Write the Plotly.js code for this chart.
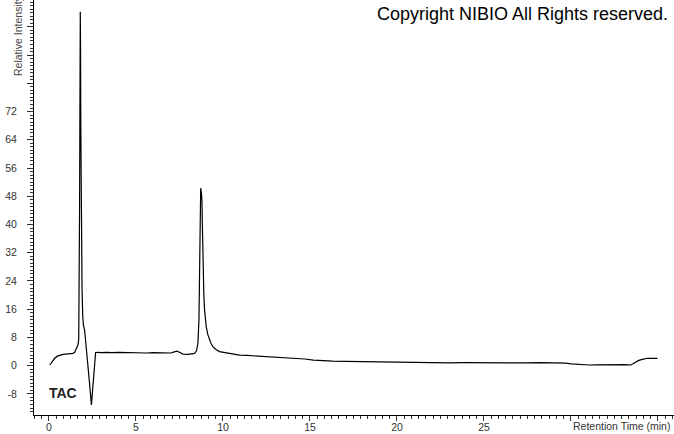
<!DOCTYPE html>
<html>
<head>
<meta charset="utf-8">
<script src="https://cdn.plot.ly/plotly-3.0.1.min.js"></script>
<style>html,body{margin:0;padding:0;background:#fff;}#chart{width:674px;height:434px;}</style>
</head>
<body>
<div id="chart"></div>
<script>
// Retention time (min)
const retentionTime = [
 0.05,0.20,0.33,0.48,0.62,0.80,0.95,1.10,1.25,1.38,1.48,1.54,1.62,1.67,1.71,1.74,1.76,1.775,1.79,1.80,1.815,1.83,1.85,1.87,1.90,1.94,1.98,2.05,2.15,2.25,2.33,2.44,2.50,2.54,2.60,2.64,2.68,
 2.8,3.0,3.3,3.6,4.0,4.4,4.8,5.2,5.6,6.0,6.4,6.8,7.0,7.2,7.35,7.5,7.7,8.0,8.2,8.37,8.48,8.56,8.62,8.66,8.69,8.72,8.76,8.79,8.81,8.85,8.90,8.94,9.04,9.13,9.23,9.32,9.42,9.6,9.8,10.1,10.38,
 10.7,10.95,11.4,11.8,12.29,12.8,13.3,13.8,14.2,14.7,15.2,15.73,16.3,17.0,17.5,18.03,18.6,19.3,19.95,20.6,21.3,22.0,22.43,23.0,23.8,24.5,25.2,26.0,26.8,27.5,28.2,28.9,29.4,29.7,30.0,30.28,30.6,31.04,31.5,32.0,32.4,32.76,33.1,33.44,33.6,33.72,33.9,34.1,34.39,34.7,34.97
];
// Relative intensity
const intensity = [
 0.2,1.2,2.1,2.7,3.0,3.2,3.3,3.4,3.4,3.5,3.8,4.4,5.0,5.9,7.5,20,45,68,90,100.3,90,68,45,32,22,14,11.5,10,5,0.8,-4.9,-11.1,-7,-4,0,3,3.7,
 3.8,3.7,3.8,3.7,3.8,3.7,3.8,3.7,3.6,3.7,3.6,3.5,3.6,3.9,4.1,3.8,3.3,3.2,3.3,3.5,4.2,6.4,13,27,41.3,50.3,49,47,41.3,27,20,15.8,11,8.8,7.3,6.2,5.4,4.6,4.0,3.7,3.5,
 3.3,3.0,2.9,2.8,2.6,2.5,2.4,2.3,2.1,1.9,1.6,1.4,1.3,1.2,1.15,1.1,1.05,1.0,0.95,0.9,0.85,0.8,0.85,0.8,0.85,0.8,0.85,0.8,0.85,0.8,0.85,0.75,0.8,0.7,0.5,0.4,0.3,0.2,0.25,0.3,0.4,0.4,0.3,0.2,0.6,1.1,1.5,1.8,2.1,2.1,2.1
];
const yTickValues = [-8,0,8,16,24,32,40,48,56,64,72,80,88,96];
const yTickLabels = ['-8','0','8','16','24','32','40','48','56','64','72','','',''];
const xTickValues = [0,5,10,15,20,25,30,35];
const xTickLabels = ['0','5','10','15','20','25','',''];

const FONT = 'Liberation Sans, Arial, sans-serif';
const trace = {
  x: retentionTime, y: intensity, type: 'scatter', mode: 'lines',
  line: {color: '#000', width: 1.2}, hoverinfo: 'skip'
};
const layout = {
  width: 674, height: 434,
  margin: {l: 34, r: 0, t: 0, b: 19, pad: 0},
  paper_bgcolor: '#fff', plot_bgcolor: '#fff',
  showlegend: false,
  font: {family: FONT, size: 10.5, color: '#333'},
  xaxis: {
    range: [-0.86, 35.92], showgrid: false, zeroline: false,
    showline: true, linecolor: '#000', linewidth: 1,
    ticks: 'outside', ticklen: 5, tickcolor: '#333', tickwidth: 1,
    tickmode: 'array', tickvals: xTickValues, ticktext: xTickLabels,
    minor: {tickmode: 'linear', tick0: 0, dtick: 5/12, ticklen: 3, tickcolor: '#333', showgrid: false},
    ticklabelstandoff: -3,
    tickfont: {family: FONT, size: 10.5, color: '#333'}
  },
  yaxis: {
    range: [-13.97, 103.6], showgrid: false, zeroline: false,
    showline: true, linecolor: '#000', linewidth: 1,
    ticks: 'outside', ticklen: 6, tickcolor: '#333', tickwidth: 1,
    tickmode: 'array', tickvals: yTickValues, ticktext: yTickLabels,
    minor: {tickmode: 'linear', tick0: 0, dtick: 1, ticklen: 3, tickcolor: '#333', showgrid: false},
    ticklabelstandoff: 8,
    tickfont: {family: FONT, size: 10.5, color: '#333'}
  },
  annotations: [
    {text: 'Copyright NIBIO All Rights reserved.', xref: 'paper', yref: 'paper',
     x: (375-34)/640, y: (415-14)/415, xanchor: 'left', yanchor: 'middle', showarrow: false,
     font: {family: FONT, size: 18, color: '#000'}},
    {text: 'Relative Intensity', xref: 'paper', yref: 'paper', textangle: -90,
     x: (18-34)/640, y: (415-36)/415, xanchor: 'center', yanchor: 'middle', showarrow: false,
     font: {family: FONT, size: 10.5, color: '#444'}},
    {text: 'Retention Time (min)', xref: 'paper', yref: 'paper',
     x: (672-34)/640, y: (415-426)/415, xanchor: 'right', yanchor: 'middle', showarrow: false,
     font: {family: FONT, size: 10.5, color: '#333'}},
    {text: '<b>TAC</b>', xref: 'paper', yref: 'paper',
     x: (47-34)/640, y: (415-393)/415, xanchor: 'left', yanchor: 'middle', showarrow: false,
     font: {family: FONT, size: 14, color: '#222'}}
  ]
};
Plotly.newPlot('chart', [trace], layout, {staticPlot: true, displayModeBar: false});
</script>
</body>
</html>
